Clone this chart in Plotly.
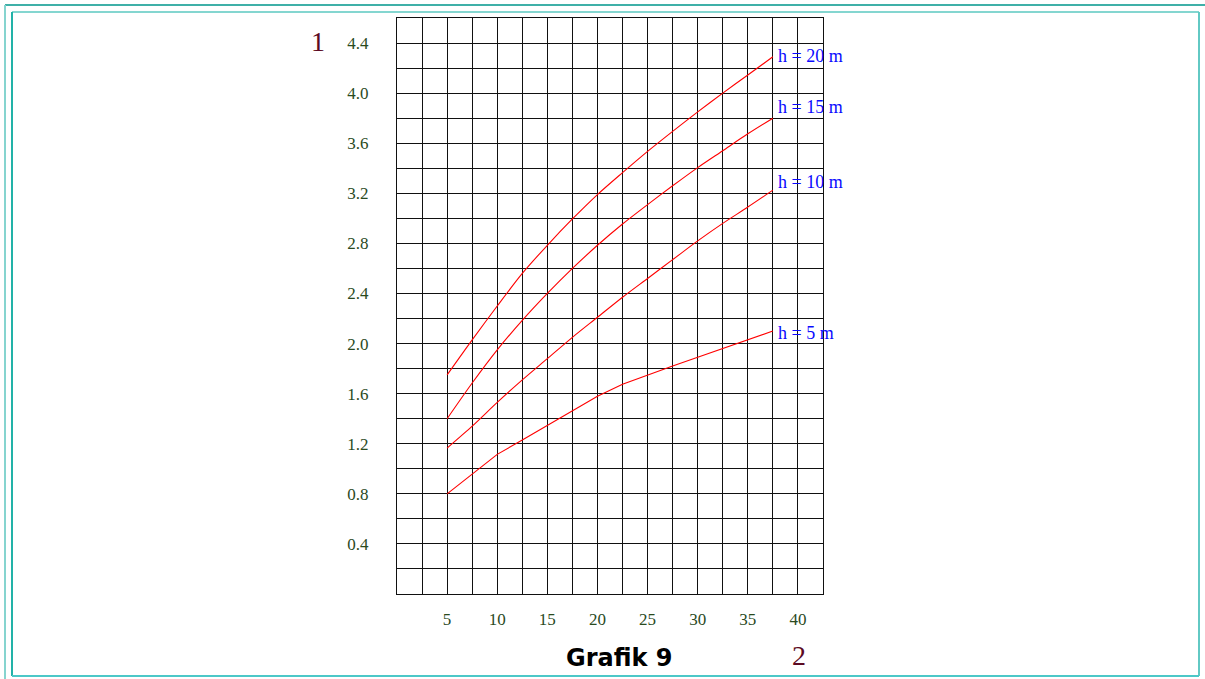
import plotly.graph_objects as go

# Flow distance (x) and readings for each height curve
distance = [5, 7.5, 10, 12.5, 15, 17.5, 20, 22.5, 25, 27.5, 30, 32.5, 35, 37.5]
h5 = [0.80, 0.96, 1.115, 1.23, 1.345, 1.46, 1.58, 1.675, 1.75, 1.82, 1.89, 1.96, 2.03, 2.10]
h10 = [1.165, 1.34, 1.53, 1.71, 1.88, 2.05, 2.21, 2.37, 2.52, 2.67, 2.82, 2.96, 3.09, 3.225]
h15 = [1.40, 1.685, 1.95, 2.185, 2.40, 2.60, 2.785, 2.955, 3.11, 3.26, 3.405, 3.54, 3.675, 3.80]
h20 = [1.75, 2.03, 2.30, 2.56, 2.785, 2.995, 3.19, 3.365, 3.535, 3.695, 3.85, 4.00, 4.145, 4.29]

curve_names = ["h = 5 m", "h = 10 m", "h = 15 m", "h = 20 m"]
curves = [h5, h10, h15, h20]

x_ticks = [5, 10, 15, 20, 25, 30, 35, 40]
y_ticks = [0.4, 0.8, 1.2, 1.6, 2.0, 2.4, 2.8, 3.2, 3.6, 4.0, 4.4]
y_tick_text = ["0.4", "0.8", "1.2", "1.6", "2.0", "2.4", "2.8", "3.2", "3.6", "4.0", "4.4"]

W, H = 1205, 679
ML, MR, MT, MB = 397, 382, 18, 85
PW, PH = W - ML - MR, H - MT - MB

def px(x):
    return (x - ML) / PW

def py(y):
    return (H - MB - y) / PH

fig = go.Figure()

label_shift = [-2, 8, 11, 1]
line_shapes = ["linear", "spline", "spline", "spline"]
for name, vals, dy, shape in zip(curve_names, curves, label_shift, line_shapes):
    fig.add_trace(go.Scatter(x=distance, y=vals, mode="lines",
                             line=dict(color="#ff0000", width=1.1, shape=shape, smoothing=0.8),
                             showlegend=False, hoverinfo="skip"))
    fig.add_annotation(x=distance[-1], y=vals[-1], text=name, showarrow=False,
                       xanchor="left", yanchor="middle", xshift=3, yshift=dy,
                       font=dict(family="Liberation Serif", size=18, color="#0a0aff"))

tick_font = dict(family="Liberation Serif", size=17, color="#2a4a1e")

fig.update_xaxes(range=[0, 42.5], tickvals=x_ticks, ticktext=[str(v) for v in x_ticks],
                 showgrid=True, gridcolor="#111", gridwidth=1,
                 minor=dict(tick0=0, dtick=2.5, showgrid=True, gridcolor="#111", gridwidth=1),
                 showline=True, linecolor="#111", linewidth=1, mirror=True,
                 ticks="outside", ticklen=0, ticklabelstandoff=10,
                 zeroline=False, tickfont=tick_font, fixedrange=True)
fig.update_yaxes(range=[0, 4.6], tickvals=y_ticks, ticktext=y_tick_text,
                 showgrid=True, gridcolor="#111", gridwidth=1,
                 minor=dict(tick0=0, dtick=0.2, showgrid=True, gridcolor="#111", gridwidth=1),
                 showline=True, linecolor="#111", linewidth=1, mirror=True,
                 ticks="outside", ticklen=0, ticklabelstandoff=24,
                 zeroline=False, tickfont=tick_font, fixedrange=True)

# Axis numbers and caption
fig.add_annotation(x=px(318), y=py(42), xref="paper", yref="paper", text="1",
                   showarrow=False, xanchor="center", yanchor="middle",
                   font=dict(family="Liberation Serif", size=28, color="#5c0a23"))
fig.add_annotation(x=px(799), y=py(655), xref="paper", yref="paper", text="2",
                   showarrow=False, xanchor="center", yanchor="middle",
                   font=dict(family="Liberation Serif", size=28, color="#5c0a23"))
fig.add_annotation(x=px(619), y=py(658), xref="paper", yref="paper", text="<b>Grafik 9</b>",
                   showarrow=False, xanchor="center", yanchor="middle",
                   font=dict(family="DejaVu Sans", size=24, color="#000000"))

# Page frame
frame = [
    (5, 5, W, 5, "#3fb0a8"),
    (5, 5, 5, H, "#86d4cf"),
    (12, 12, 1199, 12, "#84d6d0"),
    (12, 12, 12, 676, "#22b2a8"),
    (1199, 12, 1199, 676, "#62c9c4"),
    (12, 676, 1199, 676, "#4cc8c8"),
]
for x0, y0, x1, y1, c in frame:
    fig.add_shape(type="line", xref="paper", yref="paper",
                  x0=px(x0), y0=py(y0), x1=px(x1), y1=py(y1),
                  line=dict(color=c, width=2), layer="above")

fig.update_layout(width=W, height=H, margin=dict(l=ML, r=MR, t=MT, b=MB, pad=0),
                  plot_bgcolor="white", paper_bgcolor="white")

fig.write_html("out.html")
